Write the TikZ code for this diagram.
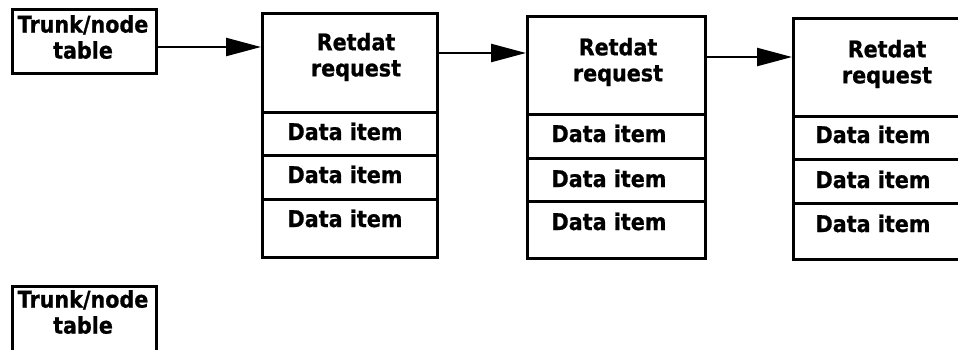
\documentclass[tikz,border=0pt]{standalone}
\usepackage{fontspec}
\setmainfont{DejaVu Sans}[FakeStretch=0.9, BoldFeatures={FakeBold=0.8}]
\usetikzlibrary{arrows.meta}
\begin{document}
\begin{tikzpicture}[x=1pt,y=-1pt,
  cell/.style={draw, line width=2.6pt, inner sep=0pt, anchor=north west},
  txt/.style={font=\fontsize{23}{26}\selectfont\bfseries, inner sep=0pt, align=center},
  item/.style={txt, anchor=base},
  link/.style={line width=2.4pt, -{Triangle[length=35pt,width=18pt]}}]
\useasboundingbox (0,0) rectangle (958,349);
\clip (0,0) rectangle (958,349);

% trunk/node tables
\node[cell, minimum width=144pt, minimum height=64pt] (tbl1) at (11,8) {};
\node[txt] (tt1) at (83,37) {Trunk/node\\table};
\node[cell, minimum width=144pt, minimum height=100pt] (tbl2) at (11,285) {};
\node[txt] (tt2) at (83,312) {Trunk/node\\table};

% first request block
\node[cell, minimum width=175pt, minimum height=99pt] (h1) at (261,12) {};
\node[cell, minimum width=175pt, minimum height=43pt] (r1a) at (261,111) {};
\node[cell, minimum width=175pt, minimum height=44pt] (r1b) at (261,154) {};
\node[cell, minimum width=175pt, minimum height=58pt] (r1c) at (261,198) {};
\node[txt] (th1) at (356,57) {Retdat\\request};
\node[item] (ti1a) at (345,140) {Data item};
\node[item] (ti1b) at (345,183) {Data item};
\node[item] (ti1c) at (345,227) {Data item};

% second request block
\node[cell, minimum width=178pt, minimum height=98pt] (h2) at (526,15) {};
\node[cell, minimum width=178pt, minimum height=44pt] (r2a) at (526,113) {};
\node[cell, minimum width=178pt, minimum height=43pt] (r2b) at (526,157) {};
\node[cell, minimum width=178pt, minimum height=57pt] (r2c) at (526,200) {};
\node[txt] (th2) at (618,62) {Retdat\\request};
\node[item] (ti2a) at (609,142) {Data item};
\node[item] (ti2b) at (609,187) {Data item};
\node[item] (ti2c) at (609,230) {Data item};

% third request block (runs past the right edge)
\node[cell, minimum width=200pt, minimum height=98pt] (h3) at (792,17) {};
\node[cell, minimum width=200pt, minimum height=43pt] (r3a) at (792,115) {};
\node[cell, minimum width=200pt, minimum height=44pt] (r3b) at (792,158) {};
\node[cell, minimum width=200pt, minimum height=56pt] (r3c) at (792,202) {};
\node[txt] (th3) at (887,64) {Retdat\\request};
\node[item] (ti3a) at (873,143) {Data item};
\node[item] (ti3b) at (873,188) {Data item};
\node[item] (ti3c) at (873,232) {Data item};

% chain links
\draw[link] (tbl1.east |- 0,47) -- (h1.west |- 0,47);
\draw[link] (h1.east |- 0,53) -- (h2.west |- 0,53);
\draw[link] (h2.east |- 0,57) -- (h3.west |- 0,57);
\end{tikzpicture}
\end{document}
